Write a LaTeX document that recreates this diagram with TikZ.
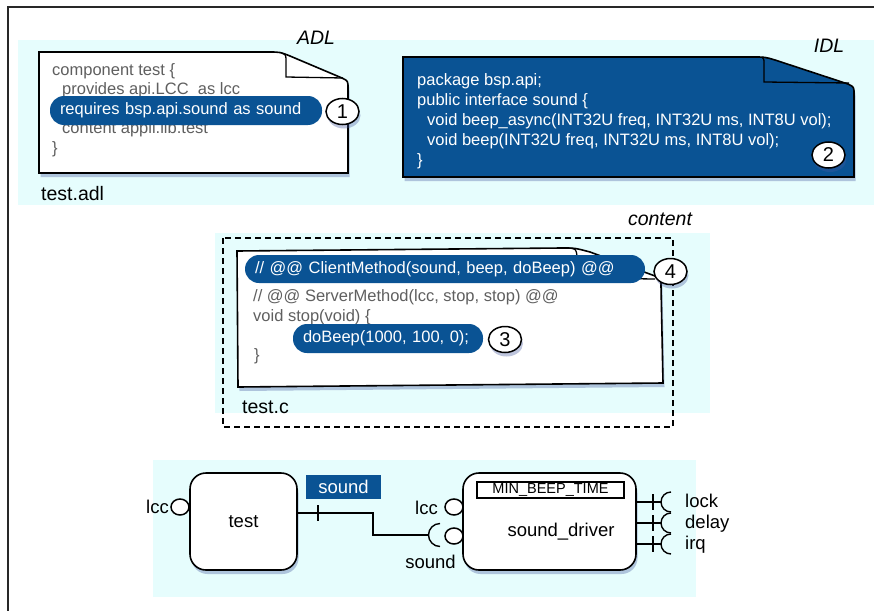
\documentclass[tikz,border=0pt]{standalone}
\usepackage{fontspec}
\setmainfont{Liberation Sans}
\usetikzlibrary{shapes.geometric,shadows}
\definecolor{bandc}{RGB}{230,253,253}
\definecolor{docblue}{RGB}{10,83,148}
\definecolor{codegray}{RGB}{95,95,95}
\definecolor{shadowc}{RGB}{70,90,160}
\definecolor{framec}{RGB}{40,40,40}
\tikzset{
  band/.style={fill=bandc, draw=none},
  shad/.style={drop shadow={shadow xshift=1.5pt, shadow yshift=-4pt, opacity=0.35, fill=shadowc}},
  docw/.style={draw=black, line width=1.6pt, fill=white, shad},
  docb/.style={draw=black, line width=1.6pt, fill=docblue, shad},
  foldl/.style={draw=black, line width=1.3pt},
  code/.style={font=\fontsize{16.5}{20}\selectfont, inner sep=0pt, anchor=base west},
  gcode/.style={code, text=codegray},
  wcode/.style={code, text=white},
  pill/.style={fill=docblue, draw=none, rounded corners=14pt, text=white, inner xsep=10pt, inner ysep=0pt, align=left, font=\fontsize{16.5}{20}\selectfont},
  num/.style={ellipse, draw=black, line width=1.5pt, fill=white, minimum width=33pt, minimum height=26pt, inner sep=0pt, font=\fontsize{20}{20}\selectfont, shad},
  lab/.style={font=\fontsize{19.5}{20}\selectfont, inner sep=0pt},
  ilab/.style={font=\fontsize{19.5}{20}\selectfont\itshape, inner sep=0pt},
  comp/.style={draw=black, line width=1.6pt, fill=white, rounded corners=16pt, shad, font=\fontsize{18.5}{20}\selectfont},
  port/.style={ellipse, draw=black, line width=1.5pt, fill=white, minimum width=18pt, minimum height=16pt, inner sep=0pt},
  blab/.style={font=\fontsize{18.5}{20}\selectfont, inner sep=0pt},
  wire/.style={draw=black, line width=1.4pt},
}
\begin{document}
\begin{tikzpicture}[x=1pt,y=-1pt]
\useasboundingbox (0,0) rectangle (874,610);
% outer frame
\draw[line width=1.8pt, draw=framec] (8,612) -- (8,7) -- (876,7);
% bands
\path[band] (18,40) rectangle (874,205);
\path[band] (215,233) rectangle (710,413);
\path[band] (153,460) rectangle (696,597);

% ---------- ADL ----------
\node[ilab] (adl) at (316,38) {ADL};
\path[docw] (39,52) -- (268,52) .. controls (280,52) .. (290,56) -- (342,78) .. controls (348,81) .. (348,88) -- (348,173) -- (39,173) -- cycle;
\draw[foldl] (282,53) .. controls (286,55) .. (286,62) -- (286,77) -- (343,78);
\node[gcode] (a1) at (52,75) {component test \{};
\node[gcode] (a2) at (62,94.5) {provides api.LCC\ \ as lcc};
\node[gcode] (a4) at (62,133.5) {content appli.lib.test};
\node[gcode] (a5) at (52,153) {\}};
\node[pill, minimum width=272pt, minimum height=29pt, text width=252pt] (p1) at (186,110.5) {requires bsp.api.sound as sound};
\node[num] (n1) at (342.5,111.5) {1};
\node[lab, anchor=west] (tadl) at (41,194) {test.adl};

% ---------- IDL ----------
\node[ilab] (idl) at (829,46) {IDL};
\path[docb] (403,57) -- (752,57) .. controls (765,57) .. (775,60) -- (848,84) .. controls (854,87) .. (854,94) -- (854,177) -- (403,177) -- cycle;
\draw[foldl] (762,57) .. controls (764,59) .. (764,64) -- (764,82) -- (849,83);
\node[wcode] (i1) at (417,85) {package bsp.api;};
\node[wcode] (i2) at (417,105) {public interface sound \{};
\node[wcode] (i3) at (427,125) {void beep\_async(INT32U freq, INT32U ms, INT8U vol);};
\node[wcode] (i4) at (427,145) {void beep(INT32U freq, INT32U ms, INT8U vol);};
\node[wcode] (i5) at (417,165) {\}};
\node[num] (n2) at (828.5,155) {2};

% ---------- content ----------
\node[ilab] (cont) at (660,219) {content};
\draw[line width=1.2pt, dash pattern=on 6pt off 4pt] (223,238) rectangle (673,427);
\path[docw] (237,251) -- (562,248) .. controls (575,248) .. (590,252) -- (655,276) .. controls (661,279) .. (661,286) -- (663,383) -- (238,387) -- cycle;
\draw[foldl] (569,248) .. controls (576,249) .. (577,256) -- (578,278) -- (655,279);
\node[gcode] (c2) at (253,301) {// @@ ServerMethod(lcc, stop, stop) @@};
\node[gcode] (c3) at (253,321) {void stop(void) \{};
\node[gcode] (c5) at (254,360) {\}};
\node[pill, minimum width=400pt, minimum height=28pt, text width=380pt] (p4) at (445,269) {// @@ ClientMethod(sound, beep, doBeep) @@};
\node[pill, minimum width=190pt, minimum height=29pt, text width=170pt] (p3) at (388,338.5) {doBeep(1000, 100, 0);};
\node[num] (n4) at (670.5,271.5) {4};
\node[num] (n3) at (505,339.5) {3};
\node[lab, anchor=west] (tc) at (242,407) {test.c};

% ---------- components ----------
\node[comp, minimum width=107pt, minimum height=97pt] (test) at (243.5,521.5) {test};
\node[comp, minimum width=173pt, minimum height=97pt] (drv) at (549.5,521.5) {};
\node[draw=black, line width=1.1pt, minimum width=147pt, minimum height=16pt, inner sep=0pt, font=\fontsize{14.5}{15}\selectfont] (minbeep) at (550.5,490) {MIN\_BEEP\_TIME};
\node[blab] (drvname) at (561,532) {sound\_driver};

\node[port] (tlcc) at (180,507) {};
\node[blab, anchor=base east] (tlccl) at (169,513.5) {lcc};
\node[port] (dlcc) at (454,507) {};
\node[blab, anchor=base east] (dlccl) at (438,514) {lcc};
\node[port] (dsnd) at (454,536) {};
\node[blab, anchor=base] (dsndl) at (430.5,568) {sound};

\node[fill=docblue, text=white, blab, minimum width=75pt, minimum height=24pt] (sndlab) at (343.5,487) {sound};
\coordinate (bend) at (373,535);
\coordinate (rcp) at (428.5,535);
\draw[wire] ([yshift=8.5pt]test.east) -| (bend) -- (rcp);
\draw[wire] (318,505) -- (318,521);
\draw[wire] (440,523.5) arc[start angle=90, end angle=270, radius=11.5pt];

\foreach \yy/\nm/\bl in {502/lock/507.5, 523/delay/528.5, 544/irq/549.5} {
  \coordinate (p\nm) at (661,\yy);
  \draw[wire] (drv.east |- p\nm) -- (p\nm);
  \draw[wire] (653,\yy-8) -- (653,\yy+8);
  \draw[wire] ([shift={(10,-10)}]p\nm) arc[start angle=90, end angle=270, radius=10pt];
  \node[blab, anchor=base west] (l\nm) at (685,\bl) {\nm};
}
\end{tikzpicture}
\end{document}
